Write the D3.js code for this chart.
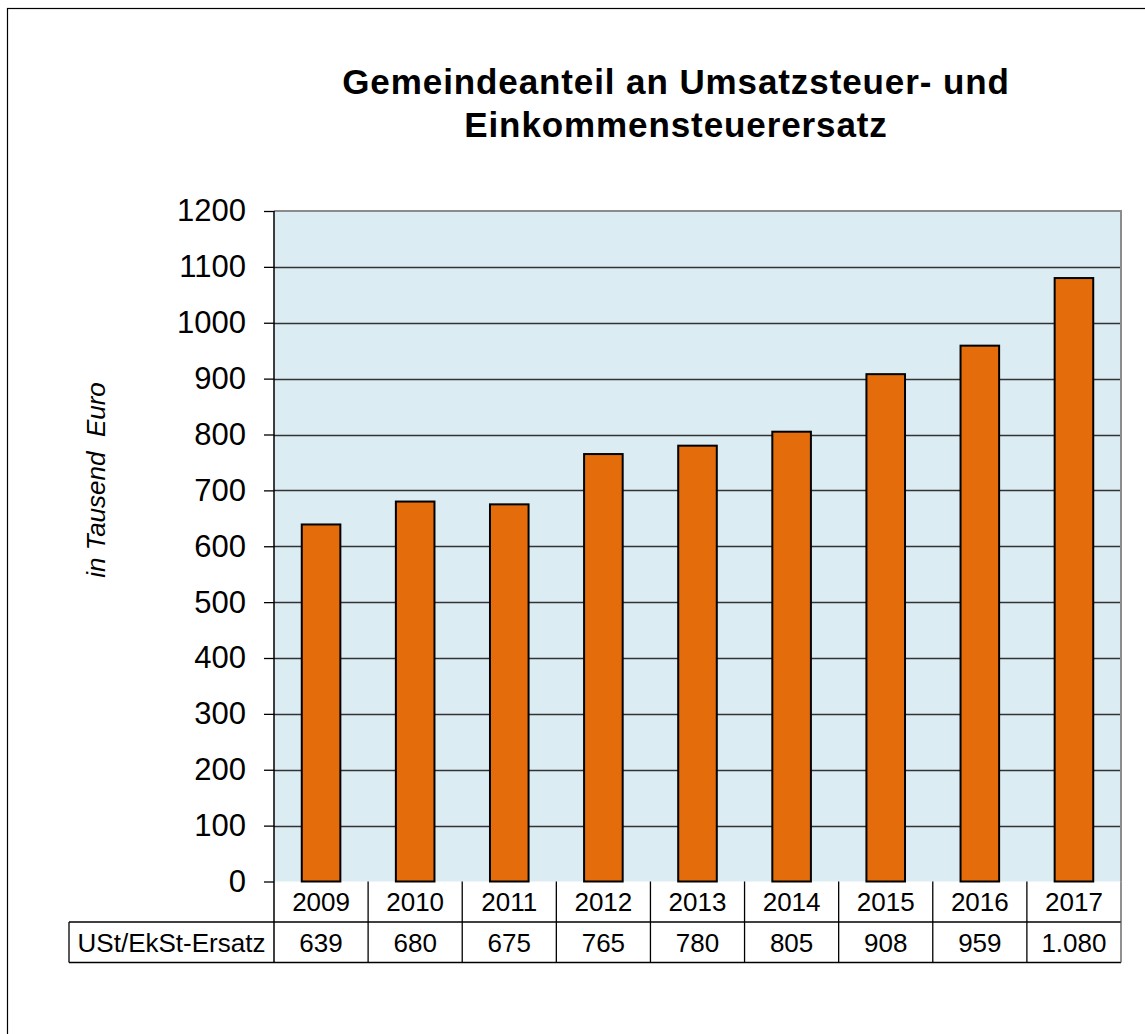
<!DOCTYPE html>
<html>
<head>
<meta charset="utf-8">
<script src="https://cdn.jsdelivr.net/npm/d3@7"></script>
<style>
  html, body { margin: 0; padding: 0; background: #fff; }
  svg { display: block; font-family: "Liberation Sans", Arial, sans-serif; }
</style>
</head>
<body>
<svg id="chart" width="1145" height="1034"></svg>
<script>
const years = ["2009", "2010", "2011", "2012", "2013", "2014", "2015", "2016", "2017"];
const values = [639, 680, 675, 765, 780, 805, 908, 959, 1080];
const yTicks = [0, 100, 200, 300, 400, 500, 600, 700, 800, 900, 1000, 1100, 1200];
const seriesName = "USt/EkSt-Ersatz";
const titleLines = ["Gemeindeanteil an Umsatzsteuer- und", "Einkommensteuerersatz"];
const yLabel = "in Tausend  Euro";

const svg = d3.select("#chart");
const plot = { left: 274, right: 1121, top: 211, bottom: 881.5 };
const rowH = 40.5;

const de = d3.formatLocale({ decimal: ",", thousands: ".", grouping: [3], currency: ["", " €"] });
const fmt = de.format(",d");

const x = d3.scaleBand().domain(years).range([plot.left, plot.right]).padding(0);
const y = d3.scaleLinear().domain([0, 1200]).range([plot.bottom, plot.top]);

// outer frame (extends beyond viewport right/bottom)
svg.append("rect").attr("x", 7.5).attr("y", 8.5).attr("width", 1200).attr("height", 1100)
  .attr("fill", "none").attr("stroke", "#000").attr("stroke-width", 1.2);

// title
svg.append("text").attr("x", 676).attr("y", 94).attr("text-anchor", "middle")
  .attr("font-size", 35).attr("font-weight", "bold").attr("letter-spacing", 0.9).text(titleLines[0]);
svg.append("text").attr("x", 676).attr("y", 137).attr("text-anchor", "middle")
  .attr("font-size", 35).attr("font-weight", "bold").attr("letter-spacing", 0.9).text(titleLines[1]);

// plot background
svg.append("rect").attr("x", plot.left).attr("y", plot.top)
  .attr("width", plot.right - plot.left).attr("height", plot.bottom - plot.top)
  .attr("fill", "#dbedf3");

// gridlines
svg.append("g").selectAll("line").data(yTicks.filter(d => d > 0 && d < 1200)).join("line")
  .attr("x1", plot.left).attr("x2", plot.right)
  .attr("y1", d => Math.round(y(d)) + 0.5).attr("y2", d => Math.round(y(d)) + 0.5)
  .attr("stroke", "#333").attr("stroke-width", 1.3);

// plot border top/right (gray)
svg.append("path")
  .attr("d", `M${plot.left},${plot.top}H${plot.right}V${plot.bottom}`)
  .attr("fill", "none").attr("stroke", "#8c8c8c").attr("stroke-width", 2);

// bars
const bw = x.bandwidth() * 0.41;
svg.append("g").selectAll("rect").data(values).join("rect")
  .attr("x", (d, i) => x(years[i]) + (x.bandwidth() - bw) / 2)
  .attr("y", d => y(d))
  .attr("width", bw)
  .attr("height", d => y(0) - y(d))
  .attr("fill", "#e46c0a").attr("stroke", "#000").attr("stroke-width", 2);

// y axis
const yAxis = d3.axisLeft(y).tickValues(yTicks).tickFormat(d3.format("d")).tickSize(10).tickPadding(8);
const ga = svg.append("g").attr("transform", `translate(${plot.left},0)`).call(yAxis);
ga.select(".domain").remove();
ga.selectAll(".tick line").attr("stroke", "#000").attr("stroke-width", 1.3);
ga.selectAll(".tick text").attr("font-size", 31).attr("font-family", "Liberation Sans, Arial, sans-serif")
  .attr("fill", "#000").attr("x", -28);

// left axis line extending into table
svg.append("line").attr("x1", plot.left).attr("x2", plot.left)
  .attr("y1", plot.top).attr("y2", plot.bottom + 2 * rowH)
  .attr("stroke", "#000").attr("stroke-width", 1.5);

// y label
svg.append("text").attr("transform", "translate(105,480) rotate(-90)")
  .attr("text-anchor", "middle").attr("font-size", 26).attr("font-style", "italic")
  .style("white-space", "pre").text(yLabel);

// data table
const tbl = svg.append("g");
const tableLeft = 69;
const r1 = plot.bottom, r2 = plot.bottom + rowH, r3 = plot.bottom + 2 * rowH;
tbl.append("line").attr("x1", tableLeft).attr("x2", plot.right).attr("y1", r2).attr("y2", r2)
  .attr("stroke", "#000").attr("stroke-width", 1.3);
tbl.append("line").attr("x1", tableLeft).attr("x2", plot.right).attr("y1", r3).attr("y2", r3)
  .attr("stroke", "#000").attr("stroke-width", 1.3);
tbl.append("line").attr("x1", tableLeft).attr("x2", tableLeft).attr("y1", r2).attr("y2", r3)
  .attr("stroke", "#000").attr("stroke-width", 1.3);
tbl.selectAll("line.v").data(years).join("line").attr("class", "v")
  .attr("x1", d => x(d) + x.bandwidth()).attr("x2", d => x(d) + x.bandwidth())
  .attr("y1", r1).attr("y2", r3)
  .attr("stroke", d => d === years[years.length - 1] ? "#555" : "#000").attr("stroke-width", 1.3);
tbl.selectAll("text.yr").data(years).join("text").attr("class", "yr")
  .attr("x", d => x(d) + x.bandwidth() / 2).attr("y", r1 + rowH / 2 + 9.5)
  .attr("text-anchor", "middle").attr("font-size", 26).text(d => d);
tbl.selectAll("text.val").data(values).join("text").attr("class", "val")
  .attr("x", (d, i) => x(years[i]) + x.bandwidth() / 2).attr("y", r2 + rowH / 2 + 9.5)
  .attr("text-anchor", "middle").attr("font-size", 26).text(d => fmt(d));
tbl.append("text").attr("x", (tableLeft + plot.left) / 2).attr("y", r2 + rowH / 2 + 9.5)
  .attr("text-anchor", "middle").attr("font-size", 26).text(seriesName);
</script>
</body>
</html>
